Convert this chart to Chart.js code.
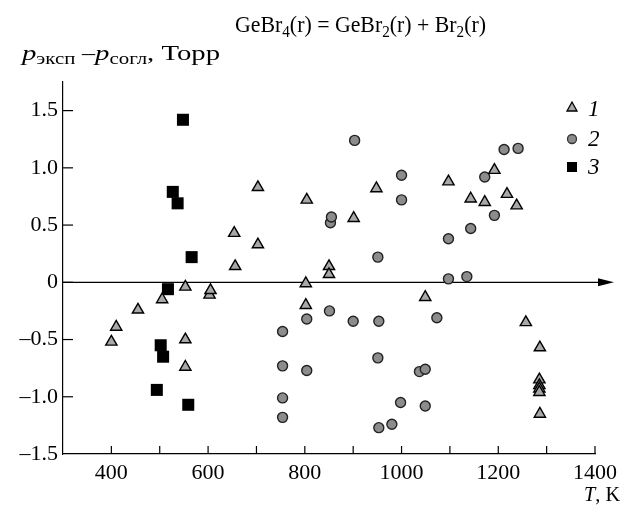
<!DOCTYPE html>
<html>
<head>
<meta charset="utf-8">
<script src="https://cdn.jsdelivr.net/npm/chart.js@4.4.1/dist/chart.umd.min.js"></script>
<style>
  html, body { margin: 0; padding: 0; background: #fff; }
  canvas { display: block; }
</style>
</head>
<body>
<canvas id="chart" width="623" height="507"></canvas>
<script>
// series 1 (triangles): T, K and p_exp - p_fit, Torr
const temp1 = [400, 410, 455, 505, 553, 553, 553, 603, 605, 654, 656, 703, 703, 804, 802, 802, 850, 850, 901, 948,
  1049, 1097, 1143, 1172, 1192, 1218, 1238, 1257, 1286, 1285, 1285, 1285, 1285, 1286];
const dev1 = [-0.52, -0.39, -0.24, -0.15, -0.04, -0.50, -0.74, -0.11, -0.07, 0.43, 0.14, 0.83, 0.33, 0.72, -0.01, -0.20, 0.14, 0.07, 0.56, 0.82,
  -0.13, 0.88, 0.73, 0.70, 0.98, 0.77, 0.67, -0.35, -0.57, -0.85, -0.90, -0.93, -0.96, -1.15];

// series 2 (circles)
const temp2 = [754, 754, 754, 754, 804, 804, 851, 853, 855, 900, 903, 951, 953, 951, 953, 980, 998, 1000, 1000,
  1037, 1049, 1049, 1073, 1097, 1097, 1135, 1143, 1172, 1192, 1212, 1241];
const dev2 = [-0.43, -0.73, -1.01, -1.18, -0.32, -0.77, -0.25, 0.52, 0.57, -0.34, 1.24, 0.22, -0.34, -0.66, -1.27, -1.24, -1.05, 0.935, 0.72,
  -0.78, -0.76, -1.08, -0.31, 0.38, 0.03, 0.05, 0.47, 0.92, 0.585, 1.16, 1.17];

// series 3 (squares)
const temp3 = [548, 527, 537, 566, 517, 502, 507, 494, 559];
const dev3 = [1.42, 0.79, 0.69, 0.22, -0.06, -0.55, -0.65, -0.94, -1.07];

const xTicks = [300, 400, 500, 600, 700, 800, 900, 1000, 1100, 1200, 1300, 1400];
const xLabels = [400, 600, 800, 1000, 1200, 1400];
const yTicks = [-1.5, -1.0, -0.5, 0, 0.5, 1.0, 1.5];

const serif = '"Liberation Serif", "Times New Roman", serif';

function pts(xs, ys) {
  return xs.map((x, i) => ({ x: x, y: ys[i] }));
}

function fmtY(v) {
  if (v === 0) return '0';
  const s = Math.abs(v).toFixed(1);
  return v < 0 ? '\u2013' + s : s;
}

// draws a run of text pieces [text, font, dy], stretched to a given width
function drawRun(ctx, parts, x, y, targetW) {
  let w = 0;
  parts.forEach(p => { ctx.font = p[1] + ' ' + serif; w += ctx.measureText(p[0]).width; });
  const k = targetW ? targetW / w : 1;
  ctx.save();
  ctx.translate(x, y);
  ctx.scale(k, 1);
  let cx = 0;
  parts.forEach(p => {
    ctx.font = p[1] + ' ' + serif;
    ctx.fillText(p[0], cx, p[2]);
    cx += ctx.measureText(p[0]).width;
  });
  ctx.restore();
}

const decorations = {
  id: 'decorations',
  beforeDatasetsDraw(chart) {
    const { ctx, chartArea, scales } = chart;
    const xs = scales.x, ys = scales.y;
    ctx.save();
    ctx.strokeStyle = '#000';
    ctx.fillStyle = '#000';
    ctx.lineWidth = 1.2;

    // zero line with arrow
    const y0 = ys.getPixelForValue(0);
    ctx.beginPath();
    ctx.moveTo(chartArea.left, y0);
    ctx.lineTo(604, y0);
    ctx.stroke();
    ctx.beginPath();
    ctx.moveTo(614, y0);
    ctx.lineTo(598, y0 - 4);
    ctx.lineTo(598, y0 + 4);
    ctx.closePath();
    ctx.fill();

    // inward ticks
    xTicks.forEach(t => {
      if (t === 300) return;
      const px = xs.getPixelForValue(t);
      ctx.beginPath();
      ctx.moveTo(px, chartArea.bottom);
      ctx.lineTo(px, chartArea.bottom - 8);
      ctx.stroke();
    });
    yTicks.forEach(t => {
      if (t === -1.5) return;
      const py = ys.getPixelForValue(t);
      ctx.beginPath();
      ctx.moveTo(chartArea.left, py);
      ctx.lineTo(chartArea.left + 10, py);
      ctx.stroke();
    });
    ctx.restore();
  },
  afterDraw(chart) {
    const { ctx } = chart;
    ctx.save();
    ctx.fillStyle = '#000';
    ctx.textBaseline = 'alphabetic';

    // title with subscripts
    drawRun(ctx, [
      ['GeBr', '23px', 0], ['4', '16px', 5], ['(r) = GeBr', '23px', 0], ['2', '16px', 5],
      ['(r) + Br', '23px', 0], ['2', '16px', 5], ['(r)', '23px', 0]
    ], 235, 32, 251);

    // y axis label
    drawRun(ctx, [
      ['p', 'italic 22px', 0], ['эксп', '16px', 4], [' \u2013', '20px', 0], ['p', 'italic 22px', 0],
      ['согл', '16px', 4], [', Торр', '22px', 0]
    ], 22, 60, 198);

    // x axis label
    drawRun(ctx, [['T', 'italic 21px', 0], [', K', '21px', 0]], 584, 501, 36);

    // legend
    const lx = 572;
    ctx.lineWidth = 1.3;
    ctx.strokeStyle = '#000';
    ctx.fillStyle = '#a8a8a8';
    ctx.beginPath();
    ctx.moveTo(lx, 102);
    ctx.lineTo(lx - 5, 111);
    ctx.lineTo(lx + 5, 111);
    ctx.closePath();
    ctx.fill();
    ctx.stroke();
    ctx.fillStyle = '#8c8c8c';
    ctx.strokeStyle = '#333';
    ctx.beginPath();
    ctx.arc(lx, 139, 4.5, 0, Math.PI * 2);
    ctx.fill();
    ctx.stroke();
    ctx.fillStyle = '#000';
    ctx.fillRect(lx - 5, 162, 10, 10);

    ctx.font = 'italic 23px ' + serif;
    ctx.fillText('1', 588, 116);
    ctx.fillText('2', 588, 146);
    ctx.fillText('3', 588, 174);
    ctx.restore();
  }
};

new Chart(document.getElementById('chart'), {
  type: 'scatter',
  data: {
    datasets: [
      {
        label: '1',
        data: pts(temp1, dev1),
        pointStyle: 'triangle',
        pointRadius: 6.5,
        backgroundColor: '#a8a8a8',
        borderColor: '#000',
        borderWidth: 1.4
      },
      {
        label: '2',
        data: pts(temp2, dev2),
        pointStyle: 'circle',
        pointRadius: 5,
        backgroundColor: '#8c8c8c',
        borderColor: '#222',
        borderWidth: 1.4
      },
      {
        label: '3',
        data: pts(temp3, dev3),
        pointStyle: 'rect',
        pointRadius: 8.5,
        backgroundColor: '#000',
        borderColor: '#000',
        borderWidth: 0
      }
    ]
  },
  options: {
    responsive: false,
    animation: false,
    layout: { padding: { top: 82, right: 27, left: 0, bottom: 0 } },
    plugins: {
      legend: { display: false },
      tooltip: { enabled: false }
    },
    scales: {
      x: {
        type: 'linear',
        min: 300,
        max: 1400,
        afterFit: s => { s.height = 53; },
        afterBuildTicks: s => { s.ticks = xTicks.map(v => ({ value: v })); },
        grid: { display: false, drawTicks: false },
        border: { display: true, color: '#000', width: 1.2 },
        ticks: {
          autoSkip: false,
          maxRotation: 0,
          padding: 6,
          color: '#000',
          font: { family: serif, size: 22 },
          callback: v => xLabels.includes(v) ? String(v) : ''
        }
      },
      y: {
        type: 'linear',
        min: -1.5,
        max: 1.75,
        afterFit: s => { s.width = 63; },
        afterBuildTicks: s => { s.ticks = yTicks.map(v => ({ value: v })); },
        grid: { display: false, drawTicks: false },
        border: { display: true, color: '#000', width: 1.2 },
        ticks: {
          padding: 5,
          color: '#000',
          font: { family: serif, size: 22 },
          callback: v => fmtY(v)
        }
      }
    }
  },
  plugins: [decorations]
});
</script>
</body>
</html>
